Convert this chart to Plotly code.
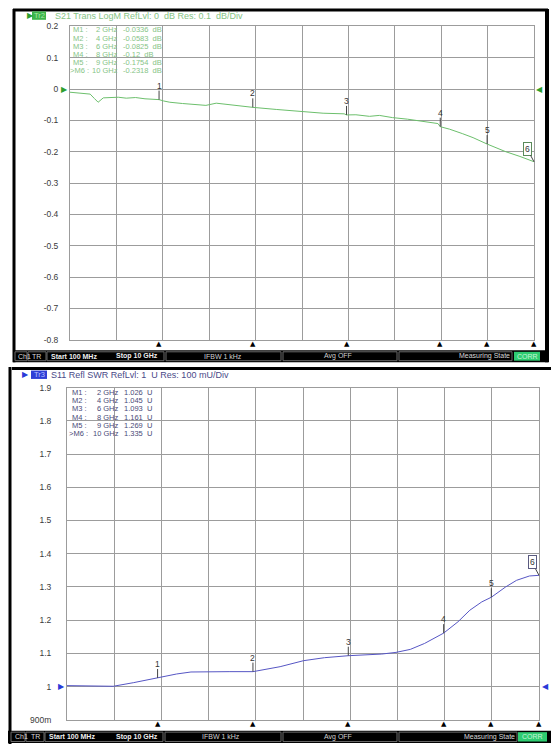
import plotly.graph_objects as go

W, H = 551, 749

# ---------------- data ----------------
# S21 transmission (dB) vs frequency (GHz)
s21_freq = [0.1, 0.3, 0.53, 0.62, 0.70, 0.81, 1.0, 1.13, 1.3, 1.5, 1.7, 1.95, 2.0, 2.1, 2.23,
            2.5, 2.8, 3.0, 3.22, 3.5, 3.8, 3.95, 4.0, 4.5, 5.06, 5.5, 5.95, 6.0, 6.2, 6.49, 6.7,
            6.98, 7.3, 7.6, 7.95, 8.0, 8.2, 8.47, 8.7, 9.0, 9.2, 9.4, 9.7, 10.0]
s21_db = [-0.010, -0.013, -0.016, -0.030, -0.042, -0.028, -0.027, -0.026, -0.029, -0.027, -0.031,
          -0.032, -0.0336, -0.038, -0.042, -0.046, -0.049, -0.052, -0.045, -0.050, -0.055, -0.056,
          -0.0583, -0.065, -0.073, -0.077, -0.079, -0.0825, -0.082, -0.087, -0.084, -0.091, -0.096,
          -0.102, -0.110, -0.12, -0.128, -0.142, -0.155, -0.1754, -0.188, -0.200, -0.215, -0.2318]

# S11 SWR vs frequency (GHz)
swr_freq = [0.1, 0.5, 0.8, 1.07, 1.5, 2.0, 2.4, 2.7, 3.0, 3.5, 4.0, 4.3, 4.57, 5.06, 5.5, 6.0,
            6.4, 6.7, 7.0, 7.3, 7.6, 8.0, 8.3, 8.55, 8.8, 9.0, 9.3, 9.53, 9.8, 10.0]
swr_val = [1.003, 1.003, 1.003, 1.001, 1.012, 1.026, 1.038, 1.044, 1.045, 1.045, 1.045, 1.052,
           1.060, 1.078, 1.087, 1.093, 1.096, 1.098, 1.103, 1.112, 1.130, 1.161, 1.195, 1.230,
           1.255, 1.269, 1.300, 1.320, 1.333, 1.335]

# markers
marker_freq = [2, 4, 6, 8, 9, 10]
marker_s21 = [-0.0336, -0.0583, -0.0825, -0.12, -0.1754, -0.2318]
marker_swr = [1.026, 1.045, 1.093, 1.161, 1.269, 1.335]

# axes
f_start, f_stop = 0.1, 10.0
s21_ticks = [0.2, 0.1, 0, -0.1, -0.2, -0.3, -0.4, -0.5, -0.6, -0.7, -0.8]
s21_ticktext = ["0.2", "0.1", "0", "-0.1", "-0.2", "-0.3", "-0.4", "-0.5", "-0.6", "-0.7", "-0.8"]
swr_ticks = [1.9, 1.8, 1.7, 1.6, 1.5, 1.4, 1.3, 1.2, 1.1, 1.0, 0.9]
swr_ticktext = ["1.9", "1.8", "1.7", "1.6", "1.5", "1.4", "1.3", "1.2", "1.1", "1", "900m"]

# ---------------- style ----------------
GREEN = "#6cbf6c"
GREEN_TXT = "#86c486"
BLUE = "#5656c4"
BLUE_TXT = "#4a4a78"
GRID = "#9c9c9c"
FONT = "Liberation Sans"
LIST_SIZE = 7.5


def px(x):
    return x / W


def py(y):
    return 1 - y / H


xgrid = [f_start + (f_stop - f_start) * i / 10 for i in range(11)]

fig = go.Figure()
fig.add_trace(go.Scatter(x=s21_freq, y=s21_db, mode="lines", xaxis="x", yaxis="y",
                         line=dict(color=GREEN, width=1), hoverinfo="skip"))
fig.add_trace(go.Scatter(x=swr_freq, y=swr_val, mode="lines", xaxis="x2", yaxis="y2",
                         line=dict(color=BLUE, width=1), hoverinfo="skip"))

common_x = dict(range=[f_start, f_stop], tickvals=xgrid, showticklabels=False,
                showgrid=True, gridcolor=GRID, gridwidth=1, zeroline=False,
                showline=True, linecolor=GRID, linewidth=1, mirror=True, ticks="")
common_y = dict(showgrid=True, gridcolor=GRID, gridwidth=1, zeroline=False,
                showline=True, linecolor=GRID, linewidth=1, mirror=True, ticks="",
                tickfont=dict(family=FONT, size=8.5, color="#3a3a3a"))

fig.update_layout(
    width=W, height=H, margin=dict(l=0, r=0, t=0, b=0),
    paper_bgcolor="white", plot_bgcolor="white", showlegend=False,
    xaxis=dict(domain=[px(70), px(534)], anchor="y", **common_x),
    yaxis=dict(domain=[py(339.3), py(21.7)], anchor="x", range=[-0.8, 0.2],
               tickvals=s21_ticks, ticktext=s21_ticktext, ticklabelstandoff=9, **common_y),
    xaxis2=dict(domain=[px(67), px(539)], anchor="y2", **common_x),
    yaxis2=dict(domain=[py(724.5), py(387.8)], anchor="x2", range=[0.9, 1.9],
                tickvals=swr_ticks, ticktext=swr_ticktext, ticklabelstandoff=13, **common_y),
)

shapes = []
ann = []


def rect(x0, y0, x1, y1, fill=None, line=None, lw=1):
    shapes.append(dict(type="rect", xref="paper", yref="paper", x0=px(x0), x1=px(x1),
                       y0=py(y1), y1=py(y0), fillcolor=fill or "rgba(0,0,0,0)",
                       line=dict(color=line or "rgba(0,0,0,0)", width=lw), layer="above"))


def line(x0, y0, x1, y1, color="black", lw=3):
    shapes.append(dict(type="line", xref="paper", yref="paper", x0=px(x0), x1=px(x1),
                       y0=py(y0), y1=py(y1), line=dict(color=color, width=lw), layer="above"))


def text(x, y, s, size=7, color="#222", xanchor="left", bold=False, bg=None, family=FONT):
    if bold:
        s = "<b>" + s + "</b>"
    ann.append(dict(x=px(x), y=py(y), xref="paper", yref="paper", text=s, showarrow=False,
                    xanchor=xanchor, yanchor="middle", bgcolor=bg,
                    font=dict(family=family, size=size, color=color), borderpad=0))


# ---- frames ----
line(13, 5, 548, 5, lw=3)
line(14, 4, 14, 362, lw=3)
line(547, 4, 547, 362, lw=4)
line(12, 368.5, 551, 368.5, lw=3)
line(10, 367, 10, 749, lw=3)


# ---- status bars ----
def status_bar(x0, y0, y1, segs):
    rect(x0, y0, 551 if x0 < 12 else 548, y1, fill="black")
    yc = (y0 + y1) / 2
    for (a, b) in segs:
        rect(a, y0 + 1.5, b, y1 - 1.5, line="#6a6a6a", lw=1)
    return yc


# top bar
yc = status_bar(13, 350, 362, [(15, 27), (28, 46), (47, 164), (166, 281), (283, 397), (399, 512)])
text(16.5, yc, "Ch1", color="#d8d8d8")
text(31, yc, "TR", color="#d8d8d8")
text(50, yc, "Start 100 MHz", bold=True, color="#f0f0f0")
text(115, yc, "Stop 10 GHz", bold=True, color="#f0f0f0")
text(223, yc, "IFBW 1 kHz", color="#d0d0d0", xanchor="center")
text(338, yc, "Avg OFF", color="#d0d0d0", xanchor="center")
text(511, yc, "Measuring State", color="#d8d8d8", xanchor="right")
rect(514, 351.5, 540, 360.5, fill="#2ecc71")
text(527, yc, "CORR", color="#c8f5d8", xanchor="center")

# bottom bar
yc = status_bar(8, 735.5, 748, [(11, 25), (26, 44), (45, 163), (165, 281), (283, 397), (399, 517)])
text(13.5, yc, "Ch1", color="#d8d8d8")
text(30, yc, "TR", color="#d8d8d8")
text(48, yc, "Start 100 MHz", bold=True, color="#f0f0f0")
text(115, yc, "Stop 10 GHz", bold=True, color="#f0f0f0")
text(221, yc, "IFBW 1 kHz", color="#d0d0d0", xanchor="center")
text(338, yc, "Avg OFF", color="#d0d0d0", xanchor="center")
text(516, yc, "Measuring State", color="#d8d8d8", xanchor="right")
rect(518, 737, 547, 746.5, fill="#2ecc71")
text(532.5, yc, "CORR", color="#c8f5d8", xanchor="center")

# ---- titles ----
text(26, 10.5, "▶", size=8, color="#2e9e2e")
rect(32, 6.5, 46, 15, fill="#3cb54a")
text(39, 10.8, "Tr2", size=7.5, color="#a8e8a8", xanchor="center")
text(54, 11, "S21 Trans LogM RefLvl: 0  dB Res: 0.1  dB/Div", size=9, color=GREEN_TXT)

text(21, 374.5, "▶", size=8, color="#2a3ad8")
rect(31, 370.5, 47, 379, fill="#2f3fd6")
text(39, 374.8, "Tr3", size=7.5, color="#b8c0ff", xanchor="center")
text(50, 375, "S11 Refl SWR RefLvl: 1  U Res: 100 mU/Div", size=9, color="#4a4a88")

# ---- marker lists ----
for i, (f, v) in enumerate(zip(marker_freq, marker_s21)):
    y = 25.3 + i * 8.15
    lab = (">M%d :" if i == len(marker_freq) - 1 else "M%d :") % (i + 1)
    text(72 if i < 5 else 69, y, lab, size=LIST_SIZE, color=GREEN_TXT)
    text(119, y, "%g GHz" % f, size=LIST_SIZE, color=GREEN_TXT, xanchor="right")
    text(122, y, "%g  dB" % v, size=LIST_SIZE, color=GREEN_TXT)

for i, (f, v) in enumerate(zip(marker_freq, marker_swr)):
    y = 392.5 + i * 8.4
    lab = (">M%d :" if i == len(marker_freq) - 1 else "M%d :") % (i + 1)
    text(71 if i < 5 else 68, y, lab, size=LIST_SIZE, color=BLUE_TXT)
    text(120, y, "%g GHz" % f, size=LIST_SIZE, color=BLUE_TXT, xanchor="right")
    text(123, y, "%.3f  U" % v, size=LIST_SIZE, color=BLUE_TXT)

# ---- marker flags on traces ----
for k, (xr, yr, vals, edge) in enumerate([("x", "y", marker_s21, "#5a8a5a"), ("x2", "y2", marker_swr, "#5a5a80")]):
    for i, (f, v) in enumerate(zip(marker_freq, vals)):
        last = i == len(marker_freq) - 1
        ann.append(dict(x=f, y=v, xref=xr, yref=yr, text=str(i + 1), showarrow=True,
                        arrowhead=0, arrowwidth=1, arrowcolor="#444", standoff=0,
                        ax=-7 if last else 0, ay=-13 if last else -14,
                        font=dict(family=FONT, size=8.5, color="#333"),
                        bordercolor=edge if last else None, borderwidth=1 if last else 0,
                        borderpad=1 if last else 0, bgcolor="white" if last else None))
        # stimulus triangles below the grid
        ann.append(dict(x=f, y=0, xref=xr, yref=yr + " domain", text="▲", showarrow=False,
                        yanchor="top", yshift=2, font=dict(family="DejaVu Sans", size=7, color="black")))

# ---- reference level arrows ----
ann.append(dict(x=0, y=0, xref="x domain", yref="y", text="▶", showarrow=False, xanchor="right",
                font=dict(family="DejaVu Sans", size=8, color="#2e9e2e")))
ann.append(dict(x=1, y=0, xref="x domain", yref="y", text="◀", showarrow=False, xanchor="left",
                font=dict(family="DejaVu Sans", size=8, color="#2e9e2e")))
ann.append(dict(x=0, y=1.0, xref="x2 domain", yref="y2", text="▶", showarrow=False, xanchor="right",
                font=dict(family="DejaVu Sans", size=8, color="#2a3ad8")))
ann.append(dict(x=1, y=1.0, xref="x2 domain", yref="y2", text="◀", showarrow=False, xanchor="left",
                xshift=1, font=dict(family="DejaVu Sans", size=8, color="#2a3ad8")))

fig.update_layout(shapes=shapes, annotations=ann)
fig.write_html(
    "out.html",
    config={"displayModeBar": False},
    post_script="document.body.style.margin='0';document.body.style.padding='0';"
                "document.documentElement.style.overflow='hidden';",
)
